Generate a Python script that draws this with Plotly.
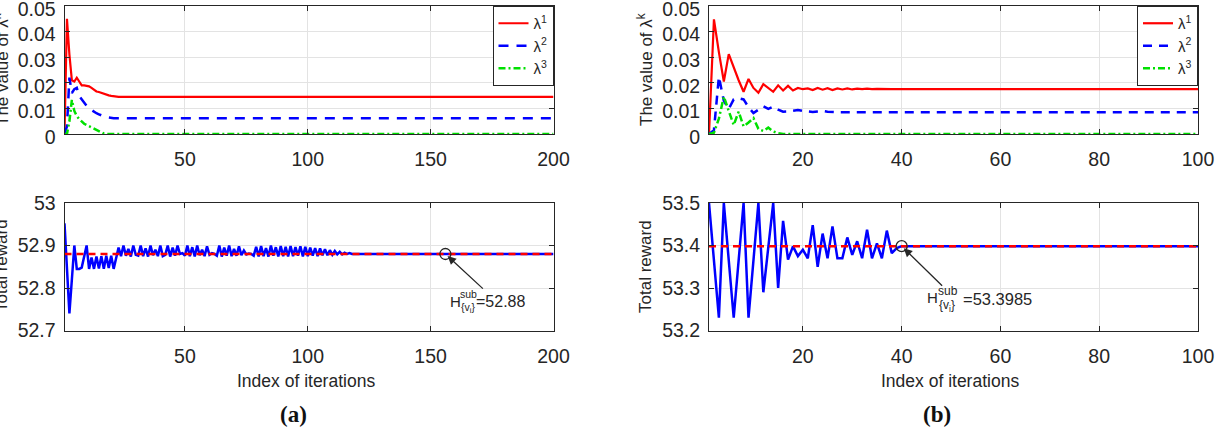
import plotly.graph_objects as go

W, H = 1218, 433

# ---------------- data ----------------
iters_a = list(range(1, 201))
iters_b = list(range(1, 101))

lam1_a = [0, 0.045, 0.031, 0.021, 0.0205, 0.022, 0.0205, 0.019, 0.019, 0.0188, 0.0186,
          0.018, 0.0172, 0.0166, 0.0164, 0.016, 0.0157, 0.0154, 0.0151, 0.0149, 0.0147,
          0.0145] + [0.0145] * 178
lam2_a = [0, 0.003, 0.022, 0.016, 0.0175, 0.018, 0.0148, 0.0135, 0.012, 0.011, 0.0100,
          0.0093, 0.0087, 0.0081, 0.0077, 0.0072, 0.0069, 0.0066, 0.0064, 0.0063] + [0.0062] * 180
lam3_a = [0, 0, 0.005, 0.0133, 0.009, 0.007, 0.0058, 0.0048, 0.004, 0.0035, 0.003, 0.0025,
          0.002, 0.0015, 0.001, 0.0005, 0.0002] + [0] * 183

reward_a = [52.952, 52.85, 52.74, 52.82, 52.9, 52.845, 52.845, 52.848, 52.872, 52.9,
            52.845, 52.872, 52.845, 52.874, 52.846, 52.875, 52.845, 52.876, 52.847, 52.876,
            52.845, 52.87,
            52.895, 52.875, 52.9, 52.876, 52.892, 52.874, 52.9, 52.878, 52.876, 52.9,
            52.875, 52.893, 52.874, 52.9, 52.877, 52.89, 52.875, 52.9, 52.875, 52.878,
            52.9, 52.874, 52.895, 52.876, 52.9, 52.88, 52.882, 52.876, 52.9, 52.875,
            52.896, 52.874, 52.9, 52.877, 52.89, 52.875, 52.898, 52.878, 52.882, 52.88,
            52.876, 52.9, 52.874, 52.895, 52.876, 52.9, 52.875, 52.892, 52.876, 52.898,
            52.877, 52.888, 52.879, 52.881, 52.88, 52.876, 52.897, 52.874, 52.899, 52.875,
            52.894, 52.874, 52.9, 52.876, 52.896, 52.874, 52.899, 52.875, 52.897, 52.874,
            52.899, 52.875, 52.896, 52.876, 52.898, 52.874, 52.897, 52.875, 52.895, 52.876,
            52.894, 52.875, 52.893, 52.877, 52.891, 52.877, 52.889, 52.878, 52.887, 52.879,
            52.885, 52.879, 52.883, 52.88, 52.882, 52.88] + [52.88] * 82
ref_a = 52.88
mark_iter_a = 156

lam1_b = [0, 0.0448, 0.032, 0.0205, 0.0312, 0.026, 0.021, 0.0165, 0.0215, 0.018, 0.0161,
          0.0195, 0.018, 0.0165, 0.019, 0.017, 0.0188, 0.017, 0.018, 0.0175, 0.0178, 0.0172,
          0.018, 0.0173, 0.0179, 0.0172, 0.0178, 0.0174, 0.0178, 0.0174, 0.0177, 0.0175,
          0.0177, 0.0175, 0.0176] + [0.0175] * 65
lam2_b = [0, 0.0015, 0.0224, 0.013, 0.0098, 0.0135, 0.014, 0.0135, 0.0105, 0.0082, 0.0095,
          0.0108, 0.0098, 0.0107, 0.0095, 0.0087, 0.0088, 0.0092, 0.0094, 0.009, 0.0087,
          0.0086, 0.0088, 0.009, 0.0087] + [0.0085] * 75
lam3_b = [0, 0.0005, 0.006, 0.0146, 0.009, 0.0035, 0.0087, 0.003, 0.0045, 0.0062, 0.002,
          0.0012, 0.0025, 0.001, 0.0003] + [0] * 85

reward_b = [53.5, 53.365, 53.23, 53.5, 53.365, 53.23, 53.365, 53.5, 53.23, 53.365, 53.5,
            53.29, 53.395, 53.5, 53.30, 53.458, 53.367, 53.398, 53.375, 53.39, 53.37, 53.448,
            53.35, 53.428, 53.37, 53.445, 53.37, 53.37, 53.419, 53.378, 53.41, 53.37, 53.437,
            53.37, 53.405, 53.37, 53.435, 53.382, 53.394, 53.3985] + [53.3985] * 60
ref_b = 53.3985
mark_iter_b = 40

lam_names = ["λ<sup>1</sup>", "λ<sup>2</sup>", "λ<sup>3</sup>"]
lam_ticks = [0, 0.01, 0.02, 0.03, 0.04, 0.05]
lam_ticktext = ["0", "0.01", "0.02", "0.03", "0.04", "0.05"]
xt_a = [50, 100, 150, 200]
xt_b = [20, 40, 60, 80, 100]
rt_a = [52.7, 52.8, 52.9, 53.0]
rt_a_text = ["52.7", "52.8", "52.9", "53"]
rt_b = [53.2, 53.3, 53.4, 53.5]
rt_b_text = ["53.2", "53.3", "53.4", "53.5"]

# ---------------- style ----------------
FONT = "Liberation Sans"
AX = "#262626"
RED, BLUE, GREEN = "#ff0000", "#0000ff", "#00e000"


def px(x):
    return x / W


def py(y):
    return 1 - y / H


fig = go.Figure()

# top (a)
fig.add_trace(go.Scatter(x=iters_a, y=lam1_a, mode="lines", name=lam_names[0],
                         line=dict(color=RED, width=2.2), xaxis="x", yaxis="y", legend="legend"))
fig.add_trace(go.Scatter(x=iters_a, y=lam2_a, mode="lines", name=lam_names[1],
                         line=dict(color=BLUE, width=2.5, dash="10px,8px"), xaxis="x", yaxis="y", legend="legend"))
fig.add_trace(go.Scatter(x=iters_a, y=lam3_a, mode="lines", name=lam_names[2],
                         line=dict(color=GREEN, width=2.5, dash="7px,3px,2px,3px"), xaxis="x", yaxis="y", legend="legend"))
# top (b)
fig.add_trace(go.Scatter(x=iters_b, y=lam1_b, mode="lines", name=lam_names[0],
                         line=dict(color=RED, width=2.2), xaxis="x2", yaxis="y2", legend="legend2"))
fig.add_trace(go.Scatter(x=iters_b, y=lam2_b, mode="lines", name=lam_names[1],
                         line=dict(color=BLUE, width=2.5, dash="9px,7px"), xaxis="x2", yaxis="y2", legend="legend2"))
fig.add_trace(go.Scatter(x=iters_b, y=lam3_b, mode="lines", name=lam_names[2],
                         line=dict(color=GREEN, width=2.5, dash="7px,3px,2px,3px"), xaxis="x2", yaxis="y2", legend="legend2"))
# bottom (a)
fig.add_trace(go.Scatter(x=iters_a, y=reward_a, mode="lines", showlegend=False,
                         line=dict(color=BLUE, width=2.5), xaxis="x3", yaxis="y3"))
fig.add_trace(go.Scatter(x=iters_a, y=[ref_a] * len(iters_a), mode="lines", showlegend=False,
                         line=dict(color=RED, width=2.5, dash="7px,5px"), xaxis="x3", yaxis="y3"))
fig.add_trace(go.Scatter(x=[mark_iter_a], y=[ref_a], mode="markers", showlegend=False,
                         marker=dict(symbol="circle-open", size=11, color=AX, line=dict(width=1.3)),
                         xaxis="x3", yaxis="y3"))
# bottom (b)
fig.add_trace(go.Scatter(x=iters_b, y=reward_b, mode="lines", showlegend=False,
                         line=dict(color=BLUE, width=2.5), xaxis="x4", yaxis="y4"))
fig.add_trace(go.Scatter(x=iters_b, y=[ref_b] * len(iters_b), mode="lines", showlegend=False,
                         line=dict(color=RED, width=2.5, dash="7px,5px"), xaxis="x4", yaxis="y4"))
fig.add_trace(go.Scatter(x=[mark_iter_b], y=[ref_b], mode="markers", showlegend=False,
                         marker=dict(symbol="circle-open", size=11, color=AX, line=dict(width=1.3)),
                         xaxis="x4", yaxis="y4"))


def axis(domain, anchor, rng, tickvals, ticktext=None, is_x=True, shift=0):
    d = dict(domain=domain, anchor=anchor, range=rng, tickvals=tickvals,
             showline=True, linecolor=AX, linewidth=1, mirror="ticks",
             ticks="inside", ticklen=5, tickcolor=AX, tickwidth=1,
             showgrid=True, gridcolor="#e3e3e3", gridwidth=1, zeroline=False,
             tickfont=dict(family=FONT, size=19.5, color=AX),
             ticklabeloverflow="allow", ticklabelshift=shift,
             ticklabelstandoff=8 if is_x else 4)
    if ticktext is not None:
        d["ticktext"] = ticktext
    return d


xdom_a = [px(64.5), px(553.5)]
xdom_b = [px(709), px(1198)]
ydom_top = [py(134), py(6)]
ydom_bot = [py(330.5), py(203)]

fig.update_layout(
    width=W, height=H,
    margin=dict(l=0, r=0, t=0, b=0, autoexpand=False),
    paper_bgcolor="white", plot_bgcolor="white",
    font=dict(family=FONT, color=AX),
    xaxis=axis(xdom_a, "y", [1, 200], xt_a),
    yaxis=axis(ydom_top, "x", [0, 0.05], lam_ticks, lam_ticktext, False, 3),
    xaxis2=axis(xdom_b, "y2", [1, 100], xt_b),
    yaxis2=axis(ydom_top, "x2", [0, 0.05], lam_ticks, lam_ticktext, False, 3),
    xaxis3=axis(xdom_a, "y3", [1, 200], xt_a),
    yaxis3=axis(ydom_bot, "x3", [52.7, 53.0], rt_a, rt_a_text, False),
    xaxis4=axis(xdom_b, "y4", [1, 100], xt_b),
    yaxis4=axis(ydom_bot, "x4", [53.2, 53.5], rt_b, rt_b_text, False),
    legend=dict(x=px(553.5), y=py(6), xanchor="right", yanchor="top",
                bgcolor="white", bordercolor=AX, borderwidth=1, tracegroupgap=0,
                font=dict(family=FONT, size=15, color=AX)),
    legend2=dict(x=px(1198), y=py(6), xanchor="right", yanchor="top",
                 bgcolor="white", bordercolor=AX, borderwidth=1, tracegroupgap=0,
                 font=dict(family=FONT, size=15, color=AX)),
)

ann = []


def txt(text, x, y, size, angle=0, xanchor="center", family=FONT, color=AX):
    ann.append(dict(text=text, x=px(x), y=py(y), xref="paper", yref="paper",
                    xanchor=xanchor, yanchor="middle", showarrow=False, textangle=angle,
                    font=dict(family=family, size=size, color=color)))


# axis titles
txt("The value of λ<sup>k</sup>", 1, 70, 17, -90)
txt("Total reward", 1, 266, 17, -90)
txt("The value of λ<sup>k</sup>", 645, 70, 17, -90)
txt("Total reward", 645, 267, 17, -90)
txt("Index of iterations", 306, 381, 17.5)
txt("Index of iterations", 950, 381, 17.5)

# panel captions
txt("<b>(a)</b>", 293, 414, 23, family="Liberation Serif", color="#111111")
txt("<b>(b)</b>", 937, 414, 23, family="Liberation Serif", color="#111111")

# H^{sub}_{v_i} labels
txt("H", 448, 301, 15, xanchor="left")
txt("sub", 458, 294, 10.5, xanchor="left")
txt("{v<sub>i</sub>}", 458.5, 308, 10.5, xanchor="left")
txt(f"={ref_a:g}", 474, 301, 16, xanchor="left")

txt("H", 925, 297.5, 15, xanchor="left")
txt("sub", 936, 291, 12, xanchor="left")
txt("{v<sub>i</sub>}", 937, 306, 12, xanchor="left")
txt(f"={ref_b:g}", 961, 299, 16.5, xanchor="left")

# arrows
ann.append(dict(x=mark_iter_a, y=ref_a, xref="x3", yref="y3", ax=39, ay=36,
                axref="pixel", ayref="pixel", text="", showarrow=True,
                arrowhead=2, arrowsize=1.3, arrowwidth=1.3, arrowcolor=AX, standoff=3))
ann.append(dict(x=mark_iter_b, y=ref_b, xref="x4", yref="y4", ax=42, ay=41,
                axref="pixel", ayref="pixel", text="", showarrow=True,
                arrowhead=2, arrowsize=1.3, arrowwidth=1.3, arrowcolor=AX, standoff=3))

fig.update_layout(annotations=ann)

fig.write_html("out.html")
